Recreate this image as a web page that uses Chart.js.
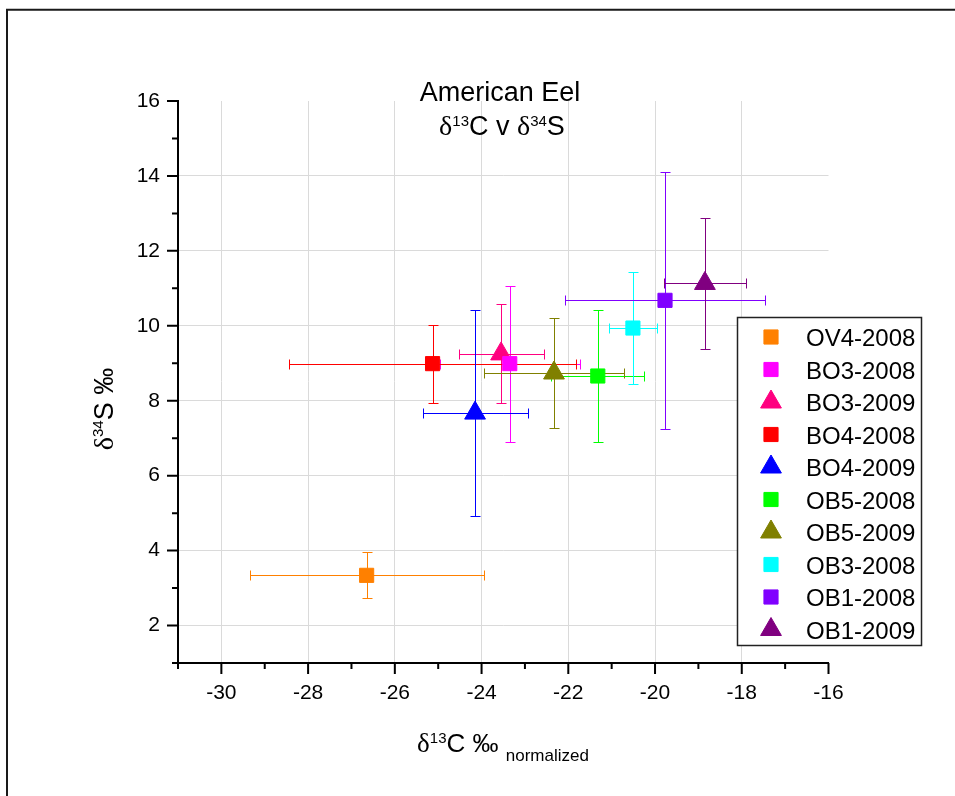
<!DOCTYPE html>
<html><head><meta charset="utf-8">
<script src="https://cdn.jsdelivr.net/npm/chart.js@4.4.1/dist/chart.umd.min.js"></script>
<style>html,body{margin:0;padding:0;background:#fff;}canvas{display:block;}</style>
</head><body>
<canvas id="c" width="955" height="796"></canvas>
<script>
// ---- data ----
const seriesNames = ['OV4-2008','BO3-2008','BO3-2009','BO4-2008','BO4-2009','OB5-2008','OB5-2009','OB3-2008','OB1-2008','OB1-2009'];
const xValues = [-26.65, -23.35, -23.55, -25.13, -24.15, -21.32, -22.33, -20.51, -19.77, -18.85];
const yValues = [3.34, 8.99, 9.25, 8.99, 7.67, 8.66, 8.74, 9.94, 10.68, 11.13];
const xErrors = [2.70, 1.62, 0.98, 3.30, 1.21, 1.07, 1.61, 0.56, 2.31, 0.95];
const yErrors = [0.61, 2.08, 1.32, 1.04, 2.75, 1.75, 1.47, 1.49, 3.43, 1.75];
const markerShapes = ['rect','rect','triangle','rect','triangle','rect','triangle','rect','rect','triangle'];
const seriesColors = ['#FF8000','#FF00FF','#FF0080','#FF0000','#0000FF','#00FF00','#808000','#00FFFF','#8000FF','#800080'];
const xTickLabels = [-30,-28,-26,-24,-22,-20,-18,-16];
const yTickLabels = [2,4,6,8,10,12,14,16];
const xRange = [-31, -16];
const yRange = [1, 16];

const SANS = '"Liberation Sans", Arial, sans-serif';
const SERIF = '"Liberation Serif", "Times New Roman", serif';

function radiusFor(shape){ return shape === 'rect' ? 10 : 12; }

const datasets = seriesNames.map((name, i) => ({
  label: name,
  data: [{x: xValues[i], y: yValues[i]}],
  pointStyle: markerShapes[i],
  pointRadius: radiusFor(markerShapes[i]),
  pointHoverRadius: radiusFor(markerShapes[i]),
  backgroundColor: seriesColors[i],
  borderColor: seriesColors[i],
  pointBorderWidth: 1,
  showLine: false
}));

// ---- plugins ----
const crisp = v => Math.round(v) + 0.5;

const errorBarPlugin = {
  id: 'errorBars',
  beforeDatasetsDraw(chart) {
    const ctx = chart.ctx, xs = chart.scales.x, ys = chart.scales.y;
    ctx.save();
    ctx.lineWidth = 1;
    const cap = 5;
    chart.data.datasets.forEach((ds, i) => {
      const pt = ds.data[0];
      const cx = crisp(xs.getPixelForValue(pt.x)), cy = crisp(ys.getPixelForValue(pt.y));
      const xl = crisp(xs.getPixelForValue(pt.x - xErrors[i])), xr = crisp(xs.getPixelForValue(pt.x + xErrors[i]));
      const yt = crisp(ys.getPixelForValue(pt.y + yErrors[i])), yb = crisp(ys.getPixelForValue(pt.y - yErrors[i]));
      ctx.strokeStyle = seriesColors[i];
      ctx.beginPath();
      ctx.moveTo(xl, cy); ctx.lineTo(xr, cy);
      ctx.moveTo(xl, cy - cap); ctx.lineTo(xl, cy + cap);
      ctx.moveTo(xr, cy - cap); ctx.lineTo(xr, cy + cap);
      ctx.moveTo(cx, yt); ctx.lineTo(cx, yb);
      ctx.moveTo(cx - cap, yt); ctx.lineTo(cx + cap, yt);
      ctx.moveTo(cx - cap, yb); ctx.lineTo(cx + cap, yb);
      ctx.stroke();
    });
    ctx.restore();
  }
};

const tickMarkPlugin = {
  id: 'tickMarks',
  beforeDatasetsDraw(chart) {
    const ctx = chart.ctx, xs = chart.scales.x, ys = chart.scales.y, a = chart.chartArea;
    ctx.save();
    ctx.strokeStyle = '#000';
    ctx.lineWidth = 2;
    ctx.beginPath();
    xs.ticks.forEach(t => {
      const px = xs.getPixelForValue(t.value);
      const len = xTickLabels.includes(t.value) ? 11 : 6;
      ctx.moveTo(px, a.bottom); ctx.lineTo(px, a.bottom + len);
    });
    ys.ticks.forEach(t => {
      const py = ys.getPixelForValue(t.value);
      const len = yTickLabels.includes(t.value) ? 11 : 6;
      ctx.moveTo(a.left, py); ctx.lineTo(a.left - len, py);
    });
    ctx.stroke();
    ctx.restore();
  }
};

function drawRich(ctx, parts, cx, baseline) {
  let w = 0;
  parts.forEach(p => { ctx.font = p.font; w += ctx.measureText(p.t).width; });
  let x = cx - w / 2;
  ctx.textAlign = 'left';
  ctx.textBaseline = 'alphabetic';
  parts.forEach(p => {
    ctx.font = p.font;
    ctx.fillText(p.t, x, baseline + (p.dy || 0));
    x += ctx.measureText(p.t).width;
  });
}

const textPlugin = {
  id: 'texts',
  afterDraw(chart) {
    const ctx = chart.ctx;
    ctx.save();
    ctx.fillStyle = '#000';
    // frame (left and top edges)
    ctx.strokeStyle = '#1a1a1a';
    ctx.lineWidth = 2;
    ctx.beginPath();
    ctx.moveTo(7, 796); ctx.lineTo(7, 9.8); ctx.lineTo(955, 9.8);
    ctx.stroke();
    // title
    drawRich(ctx, [{t: 'American Eel', font: '27px ' + SANS}], 500, 100.5);
    drawRich(ctx, [
      {t: 'δ', font: '28px ' + SERIF},
      {t: '13', font: '15px ' + SANS, dy: -9},
      {t: 'C v ', font: '27px ' + SANS},
      {t: 'δ', font: '28px ' + SERIF},
      {t: '34', font: '15px ' + SANS, dy: -9},
      {t: 'S', font: '27px ' + SANS}
    ], 502, 135);
    // x axis title
    drawRich(ctx, [
      {t: 'δ', font: '27px ' + SERIF},
      {t: '13', font: '15px ' + SANS, dy: -9},
      {t: 'C ‰ ', font: '26px ' + SANS},
      {t: 'normalized', font: '17px ' + SANS, dy: 9}
    ], 503, 751.5);
    // y axis title
    ctx.translate(113, 409);
    ctx.rotate(-Math.PI / 2);
    drawRich(ctx, [
      {t: 'δ', font: '28px ' + SERIF},
      {t: '34', font: '15px ' + SANS, dy: -10},
      {t: 'S ‰', font: '27px ' + SANS}
    ], 0, 0);
    ctx.restore();

    // legend
    ctx.save();
    const lx = 737.5, ly = 317.5, lw = 184, lh = 328;
    ctx.fillStyle = '#fff';
    ctx.fillRect(lx, ly, lw, lh);
    ctx.strokeStyle = '#222';
    ctx.lineWidth = 1.5;
    ctx.strokeRect(lx, ly, lw, lh);
    chart.data.datasets.forEach((ds, i) => {
      const ry = 337 + i * 32.5;
      ctx.fillStyle = seriesColors[i];
      ctx.strokeStyle = seriesColors[i];
      ctx.lineWidth = 1;
      Chart.helpers.drawPoint(ctx, {pointStyle: markerShapes[i], radius: radiusFor(markerShapes[i]), borderWidth: 1, rotation: 0}, 771, ry);
      ctx.fillStyle = '#000';
      ctx.font = '24px ' + SANS;
      ctx.textAlign = 'left';
      ctx.textBaseline = 'alphabetic';
      ctx.fillText(ds.label, 806, ry + 9);
    });
    ctx.restore();
  }
};

new Chart(document.getElementById('c'), {
  type: 'scatter',
  data: {datasets},
  options: {
    responsive: false,
    animation: false,
    devicePixelRatio: 1,
    events: [],
    layout: {padding: {left: 0, top: 101, right: 126.5, bottom: 0}},
    plugins: {legend: {display: false}, title: {display: false}, tooltip: {enabled: false}},
    scales: {
      x: {
        type: 'linear', position: 'bottom', min: xRange[0], max: xRange[1],
        afterFit(s) { s.height = 133; },
        ticks: {stepSize: 1, autoSkip: false, maxRotation: 0, padding: 18, color: '#000',
          font: {family: SANS, size: 21},
          callback: v => xTickLabels.includes(v) ? String(v) : ''},
        grid: {drawTicks: false, lineWidth: 1,
          color: c => (c.tick && xTickLabels.includes(c.tick.value) && c.tick.value !== xRange[1]) ? '#dadada' : 'rgba(0,0,0,0)'},
        border: {display: true, color: '#000', width: 2}
      },
      y: {
        type: 'linear', position: 'left', min: yRange[0], max: yRange[1],
        afterFit(s) { s.width = 178; },
        ticks: {stepSize: 1, autoSkip: false, padding: 18, color: '#000',
          font: {family: SANS, size: 21},
          callback: v => yTickLabels.includes(v) ? String(v) : ''},
        grid: {drawTicks: false, lineWidth: 1,
          color: c => (c.tick && yTickLabels.includes(c.tick.value) && c.tick.value !== yRange[1]) ? '#dadada' : 'rgba(0,0,0,0)'},
        border: {display: true, color: '#000', width: 2}
      }
    }
  },
  plugins: [errorBarPlugin, tickMarkPlugin, textPlugin]
});
</script>
</body></html>
